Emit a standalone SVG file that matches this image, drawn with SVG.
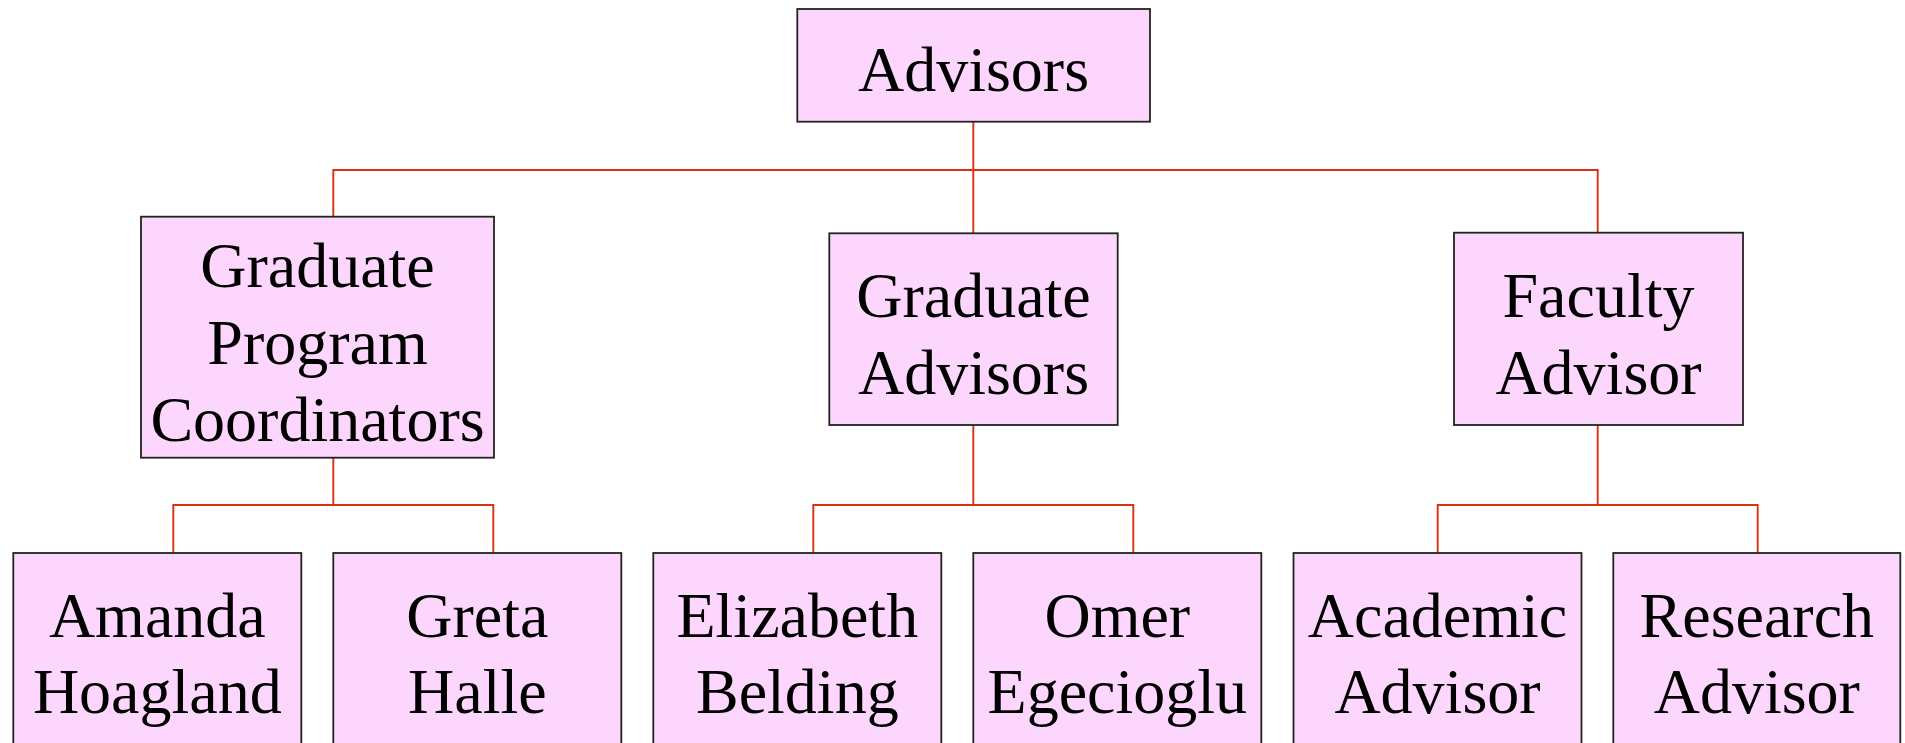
<svg xmlns="http://www.w3.org/2000/svg" width="1905" height="743" viewBox="0 0 1905 743">
<style>
.box{fill:#FDD6FD;stroke:#222;stroke-width:1.8}
.lbl{font-family:"Liberation Serif","Times New Roman",serif;font-size:64px;fill:#000;text-anchor:middle}
.con{fill:none;stroke:#DC3014;stroke-width:1.9}
</style>
<rect width="1905" height="743" fill="#fff"/>
<g id="connectors">
<path class="con" d="M973.3 121.7V233.3M333.3 216.7V170H1597.7V232.7"/>
<path class="con" d="M333.3 457.7V505M173.3 553V505H493.3V553"/>
<path class="con" d="M973.3 425V505M813.3 553V505H1133.3V553"/>
<path class="con" d="M1597.7 425V505M1437.7 553V505H1757.7V553"/>
</g>
<g id="advisors">
<rect class="box" x="797.3" y="9" width="352.7" height="112.7"/>
<text class="lbl" x="973.5" y="90.7">Advisors</text>
</g>
<g id="grad-program-coordinators">
<rect class="box" x="141" y="216.7" width="353" height="241"/>
<text class="lbl" x="317.5" y="286.7">Graduate</text>
<text class="lbl" x="317.5" y="363.5">Program</text>
<text class="lbl" x="317.5" y="440.5">Coordinators</text>
</g>
<g id="graduate-advisors">
<rect class="box" x="829.3" y="233.3" width="288.4" height="191.7"/>
<text class="lbl" x="973.5" y="317">Graduate</text>
<text class="lbl" x="973.5" y="394">Advisors</text>
</g>
<g id="faculty-advisor">
<rect class="box" x="1454" y="232.7" width="289" height="192.3"/>
<text class="lbl" x="1598.5" y="317">Faculty</text>
<text class="lbl" x="1598.5" y="394">Advisor</text>
</g>
<g id="amanda-hoagland">
<rect class="box" x="13.3" y="553" width="288" height="200"/>
<text class="lbl" x="157.3" y="636.7">Amanda</text>
<text class="lbl" x="157.3" y="713.3">Hoagland</text>
</g>
<g id="greta-halle">
<rect class="box" x="333.3" y="553" width="288" height="200"/>
<text class="lbl" x="477.3" y="636.7">Greta</text>
<text class="lbl" x="477.3" y="713.3">Halle</text>
</g>
<g id="elizabeth-belding">
<rect class="box" x="653.3" y="553" width="288" height="200"/>
<text class="lbl" x="797.3" y="636.7">Elizabeth</text>
<text class="lbl" x="797.3" y="713.3">Belding</text>
</g>
<g id="omer-egecioglu">
<rect class="box" x="973.3" y="553" width="288" height="200"/>
<text class="lbl" x="1117.3" y="636.7">Omer</text>
<text class="lbl" x="1117.3" y="713.3">Egecioglu</text>
</g>
<g id="academic-advisor">
<rect class="box" x="1293.5" y="553" width="288" height="200"/>
<text class="lbl" x="1437.5" y="636.7">Academic</text>
<text class="lbl" x="1437.5" y="713.3">Advisor</text>
</g>
<g id="research-advisor">
<rect class="box" x="1613.3" y="553" width="287" height="200"/>
<text class="lbl" x="1756.8" y="636.7">Research</text>
<text class="lbl" x="1756.8" y="713.3">Advisor</text>
</g>
</svg>
